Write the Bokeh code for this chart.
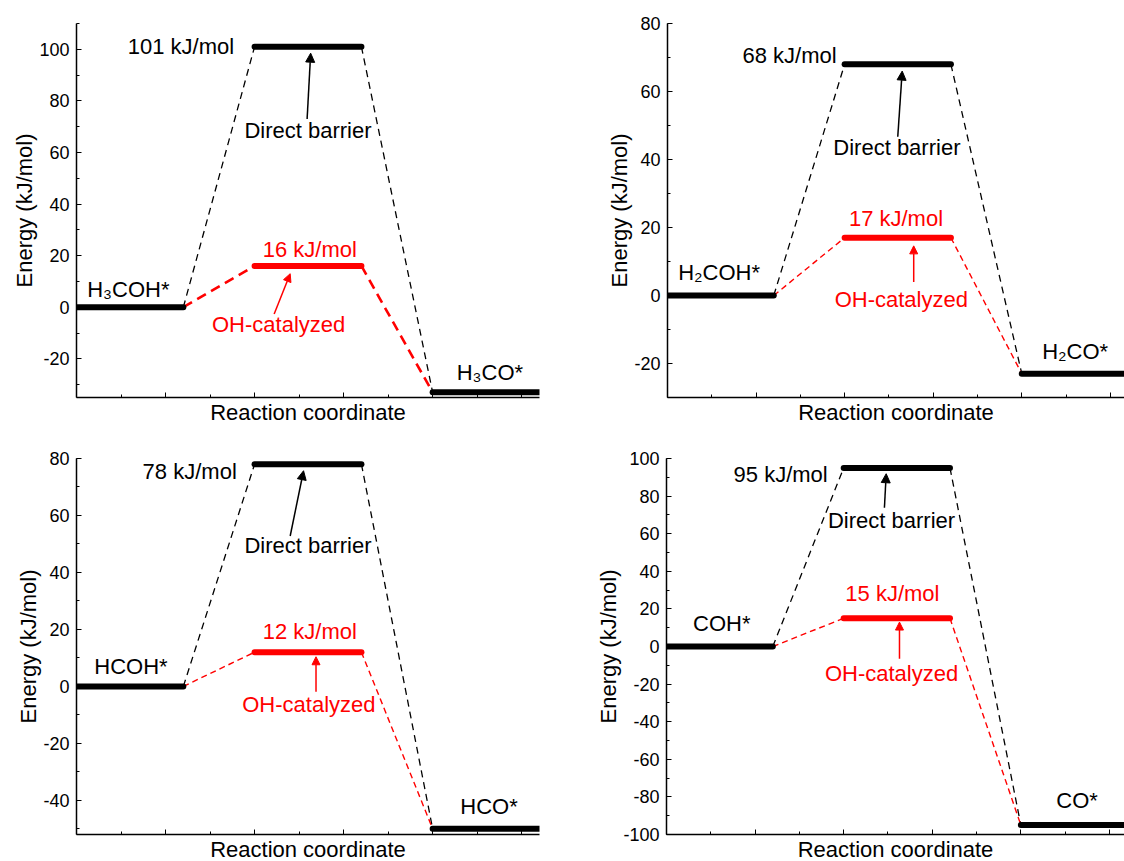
from bokeh.plotting import figure
from bokeh.layouts import column, row
from bokeh.models import (Arrow, NormalHead, FixedTicker, Range1d, Title,
                          CustomLabelingPolicy)
from bokeh.core.properties import value
from bokeh.embed import file_html
from bokeh.resources import INLINE

# ---------------- data ----------------
initial_states = ["H₃COH*", "H₂COH*", "HCOH*", "COH*"]
final_states = ["H₃CO*", "H₂CO*", "HCO*", "CO*"]
initial_energy = [0, 0, 0, 0]
direct_barrier = [101, 68, 78, 95]
oh_barrier = [16, 17, 12, 15]
final_energy = [-33, -23, -50, -95]
stage_x = [0, 2, 4]          # reaction-coordinate start of each stage
level_len = 1.2
y_ranges = [(-35, 110), (-30, 80), (-52, 80), (-100, 100)]
y_major = [(-20, 100), (-20, 80), (-40, 80), (-100, 100)]
x_title = "Reaction coordinate"
y_title = "Energy (kJ/mol)"

# ---------------- layout / style ----------------
FONT = "Liberation Sans"
# width, height, border_left, border_top, border_bottom, border_right, x_end
geom = [
    (560, 430, 76, 19, 33, 21, 5.2),
    (564, 430, 107, 23, 31, 0, 5.16),
    (560, 431, 76, 28, 25, 21, 5.2),
    (564, 431, 106, 28, 25, 0, 5.17),
]
# title offsets (px): x-title shift right, y-title shift up
title_off = [(-10, 8), (-8.5, 8.5), (-10, 7), (-9.5, 8)]
# annotation placement (data coords)
ann = [
    dict(val=(1.77, 101), db=(2.6, 68.5), arr=(2.59, 73, 2.63, 98.5), oh=(2.62, 22.3),
         rarr=(2.22, -2.6, 2.4, 13), ohc=(2.27, -6.8), ini=(0.12, 7), fin=(4.27, -25.4),
         red_w=2.6, red_dash="10 6"),
    dict(val=(1.91, 70.5), db=(2.59, 43.5), arr=(2.6, 46.7, 2.65, 66), oh=(2.58, 22.7),
         rarr=(2.78, 4, 2.78, 14.6), ohc=(2.64, -1.2), ini=(0.12, 6.7), fin=(4.23, -16.4),
         red_w=1.4, red_dash="6 4"),
    dict(val=(1.8, 75.3), db=(2.6, 49.3), arr=(2.4, 52.8, 2.55, 75.7), oh=(2.62, 19.1),
         rarr=(2.69, -1.9, 2.69, 10.4), ohc=(2.61, -6.4), ini=(0.2, 7), fin=(4.31, -42),
         red_w=1.4, red_dash="6 4"),
    dict(val=(1.82, 91.3), db=(2.54, 67), arr=(2.46, 73.8, 2.48, 91.9), oh=(2.55, 28),
         rarr=(2.63, -6.5, 2.63, 13), ohc=(2.54, -14.5), ini=(0.3, 12), fin=(4.4, -82),
         red_w=1.4, red_dash="6 4"),
]


def make_panel(i):
    w, h, bl, bt, bb, br, xend = geom[i]
    a = ann[i]
    p = figure(width=w, height=h, output_backend="svg", toolbar_location=None,
               x_range=Range1d(0, xend), y_range=Range1d(*y_ranges[i]),
               min_border_left=bl, min_border_top=bt, min_border_bottom=bb,
               min_border_right=br)
    p.outline_line_color = None
    p.grid.visible = False
    p.background_fill_color = "white"
    p.border_fill_color = "white"

    # axes
    p.xaxis.ticker = FixedTicker(ticks=[0, 1, 2, 3, 4, 5], minor_ticks=[0.5, 1.5, 2.5, 3.5, 4.5, 5.5])
    lo, hi = y_major[i]
    yt = list(range(lo, hi + 1, 20))
    p.yaxis.ticker = FixedTicker(ticks=yt, minor_ticks=list(range(lo - 20, hi + 21, 10)))
    p.yaxis.major_label_overrides = {t: str(t) for t in yt}
    for ax in (p.xaxis[0], p.yaxis[0]):
        ax.axis_line_color = "black"
        ax.axis_line_width = 1.5
        ax.major_tick_line_color = "black"
        ax.minor_tick_line_color = "black"
        ax.major_tick_in = 5
        ax.major_tick_out = 0
        ax.minor_tick_in = 3
        ax.minor_tick_out = 0
        ax.major_label_text_font = FONT
        ax.major_label_text_color = "black"
    p.xaxis.major_label_policy = CustomLabelingPolicy(code="return []")
    p.xaxis.major_label_text_font_size = "0px"
    p.xaxis.major_label_standoff = 0
    p.xaxis.axis_label_standoff = 0
    p.yaxis.major_label_text_font_size = "18px"
    p.yaxis.major_label_standoff = 7

    # axis titles
    ox, oy = title_off[i]
    p.add_layout(Title(text=x_title, align="center", offset=ox, standoff=0,
                       text_font=FONT, text_font_size="22px", text_font_style="normal",
                       text_color="black", text_line_height=1.0), "below")
    p.add_layout(Title(text=y_title, align="center", offset=oy, standoff=0,
                       text_font=FONT, text_font_size="22px", text_font_style="normal",
                       text_color="black"), "left")

    e0, eb, eo, ef = initial_energy[i], direct_barrier[i], oh_barrier[i], final_energy[i]
    s0, s1, s2 = stage_x

    # connectors
    p.line([s0 + level_len, s1], [e0, eb], line_color="black", line_width=1.3, line_dash="7 5")
    p.line([s1 + level_len, s2], [eb, ef], line_color="black", line_width=1.3, line_dash="7 5")
    p.line([s0 + level_len, s1], [e0, eo], line_color="red", line_width=a["red_w"], line_dash=a["red_dash"])
    p.line([s1 + level_len, s2], [eo, ef], line_color="red", line_width=a["red_w"], line_dash=a["red_dash"])

    # levels
    p.segment(x0=[s0, s1, s2], y0=[e0, eb, ef], x1=[s0 + level_len, s1 + level_len, s2 + level_len],
              y1=[e0, eb, ef], line_color="black", line_width=6, line_cap="round")
    p.segment(x0=[s1], y0=[eo], x1=[s1 + level_len], y1=[eo], line_color="red", line_width=6,
              line_cap="round")

    # arrows
    x0, y0, x1, y1 = a["arr"]
    p.add_layout(Arrow(end=NormalHead(size=9, fill_color="black", line_color="black"),
                       x_start=x0, y_start=y0, x_end=x1, y_end=y1,
                       line_color="black", line_width=1.5))
    x0, y0, x1, y1 = a["rarr"]
    p.add_layout(Arrow(end=NormalHead(size=8, fill_color="red", line_color="red"),
                       x_start=x0, y_start=y0, x_end=x1, y_end=y1,
                       line_color="red", line_width=1.5))

    tf = value(FONT)
    p.text(x=[a["val"][0]], y=[a["val"][1]], text=[f"{eb} kJ/mol"], text_font=tf,
           text_font_size="22px", text_align="right", text_baseline="middle", text_color="black")
    p.text(x=[a["db"][0]], y=[a["db"][1]], text=["Direct barrier"], text_font=tf,
           text_font_size="22px", text_align="center", text_baseline="middle", text_color="black")
    p.text(x=[a["oh"][0]], y=[a["oh"][1]], text=[f"{eo} kJ/mol"], text_font=tf,
           text_font_size="22px", text_align="center", text_baseline="middle", text_color="red")
    p.text(x=[a["ohc"][0]], y=[a["ohc"][1]], text=["OH-catalyzed"], text_font=tf,
           text_font_size="22px", text_align="center", text_baseline="middle", text_color="red")
    p.text(x=[a["ini"][0]], y=[a["ini"][1]], text=[initial_states[i]], text_font=tf,
           text_font_size="22px", text_align="left", text_baseline="middle", text_color="black")
    p.text(x=[a["fin"][0]], y=[a["fin"][1]], text=[final_states[i]], text_font=tf,
           text_font_size="22px", text_align="left", text_baseline="middle", text_color="black")
    return p


panels = [make_panel(i) for i in range(4)]
layout = column(row(panels[0], panels[1]), row(panels[2], panels[3]))
layout.spacing = 0

with open("out.html", "w") as f:
    f.write(file_html(layout, INLINE))
